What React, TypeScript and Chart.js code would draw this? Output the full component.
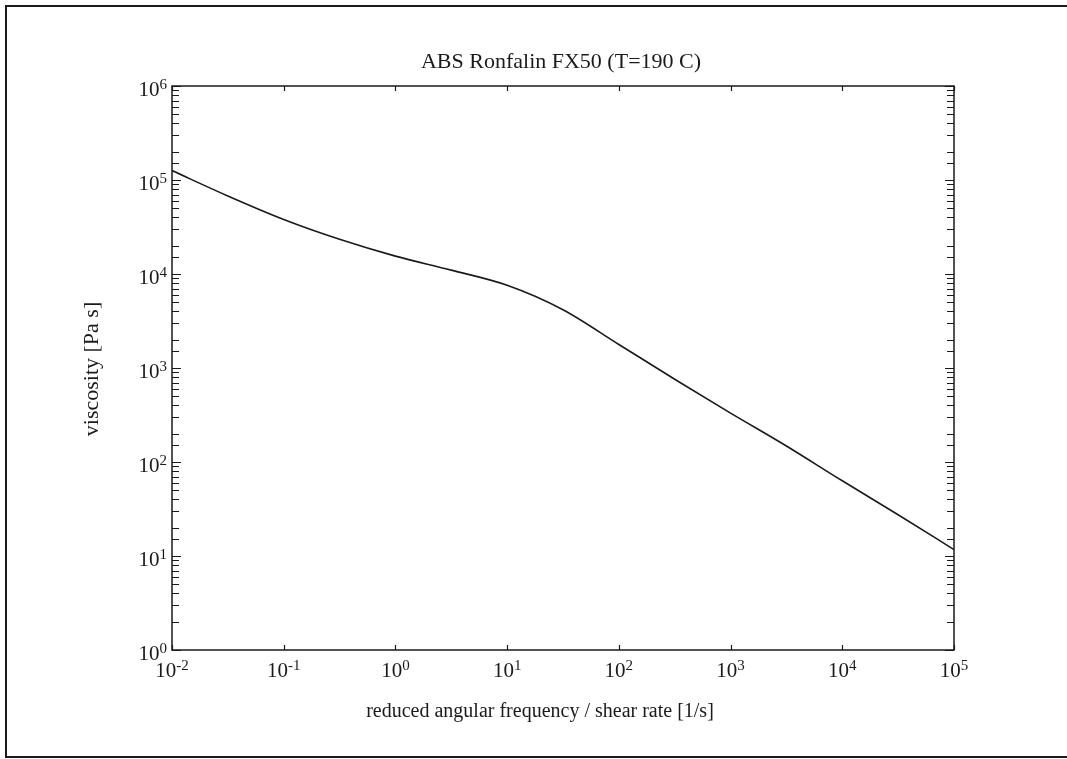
import React, { useEffect, useRef } from "react";
import { Chart, registerables } from "chart.js";

Chart.register(...registerables);

// reduced angular frequency / shear rate [1/s]
const shearRate = [0.01, 0.0316, 0.1, 0.316, 1, 3.16, 10, 31.6, 100, 316, 1000, 3160, 10000, 31600, 100000];
// viscosity [Pa s]
const viscosity = [125900, 67600, 38000, 23400, 15500, 11000, 7590, 4170, 1780, 759, 331, 148, 63.1, 27.5, 11.7];

const xTickExponents = [-2, -1, 0, 1, 2, 3, 4, 5];
const yTickExponents = [0, 1, 2, 3, 4, 5, 6];

const titleText = "ABS Ronfalin FX50 (T=190 C)";
const xLabel = "reduced angular frequency / shear rate [1/s]";
const yLabel = "viscosity [Pa s]";

const FONT = '"Liberation Serif", "Times New Roman", serif';
const INK = "#1a1a1a";

function drawPow(ctx: CanvasRenderingContext2D, exp: number, x: number, baseline: number, align: "left" | "right" | "center") {
  const baseFont = `21px ${FONT}`;
  const supFont = `15px ${FONT}`;
  ctx.font = baseFont;
  const wb = ctx.measureText("10").width;
  ctx.font = supFont;
  const es = String(exp);
  const we = ctx.measureText(es).width;
  const w = wb + we;
  let sx = x;
  if (align === "right") sx = x - w;
  else if (align === "center") sx = x - w / 2;
  ctx.textAlign = "left";
  ctx.textBaseline = "alphabetic";
  ctx.font = baseFont;
  ctx.fillText("10", sx, baseline);
  ctx.font = supFont;
  ctx.fillText(es, sx + wb, baseline - 7);
}

const customPlugin = {
  id: "customDraw",
  beforeDraw(chart: any) {
    const { ctx, width, height } = chart;
    ctx.save();
    ctx.fillStyle = "#ffffff";
    ctx.fillRect(0, 0, width, height);
    ctx.restore();
  },
  afterDraw(chart: any) {
    const { ctx, chartArea } = chart;
    const { left, right, top, bottom } = chartArea;
    const xs = chart.scales.x;
    const ys = chart.scales.y;
    ctx.save();
    ctx.strokeStyle = INK;
    ctx.fillStyle = INK;

    // plot box
    ctx.lineWidth = 1.5;
    ctx.strokeRect(left, top, right - left, bottom - top);

    // y ticks (major + minor), inward on both sides
    ctx.lineWidth = 1.2;
    ctx.beginPath();
    ys.ticks.forEach((t: any) => {
      const v = t.value;
      if (v < ys.min || v > ys.max) return;
      const py = Math.round(ys.getPixelForValue(v)) + 0.5;
      const lg = Math.log10(v);
      const major = Math.abs(lg - Math.round(lg)) < 1e-6;
      const len = major ? 9 : 7;
      ctx.moveTo(left, py);
      ctx.lineTo(left + len, py);
      ctx.moveTo(right, py);
      ctx.lineTo(right - len, py);
    });
    ctx.stroke();

    // x ticks (decades only)
    ctx.beginPath();
    xTickExponents.forEach((e) => {
      const px = Math.round(xs.getPixelForValue(Math.pow(10, e))) + 0.5;
      ctx.moveTo(px, bottom);
      ctx.lineTo(px, bottom - 5);
      ctx.moveTo(px, top);
      ctx.lineTo(px, top + 5);
    });
    ctx.stroke();

    // tick labels
    yTickExponents.forEach((e) => {
      const py = ys.getPixelForValue(Math.pow(10, e));
      drawPow(ctx, e, left - 5, py + 10, "right");
    });
    xTickExponents.forEach((e) => {
      const px = xs.getPixelForValue(Math.pow(10, e));
      drawPow(ctx, e, px, bottom + 27, "center");
    });

    // title & axis labels
    ctx.textAlign = "center";
    ctx.textBaseline = "middle";
    ctx.font = `22px ${FONT}`;
    ctx.fillText(titleText, 561, 62);
    ctx.font = `20px ${FONT}`;
    ctx.fillText(xLabel, 540, 712);
    ctx.save();
    ctx.font = `22px ${FONT}`;
    ctx.translate(92, 369);
    ctx.rotate(-Math.PI / 2);
    ctx.fillText(yLabel, 0, 0);
    ctx.restore();

    // outer frame
    ctx.lineWidth = 2;
    ctx.strokeRect(6, 6, 1080, 751);
    ctx.restore();
  },
};

export default function App() {
  const ref = useRef<HTMLCanvasElement | null>(null);
  useEffect(() => {
    document.body.style.margin = "0";
    const canvas = ref.current;
    if (!canvas) return;
    const chart = new Chart(canvas, {
      type: "line",
      data: {
        datasets: [
          {
            data: shearRate.map((x, i) => ({ x, y: viscosity[i] })),
            borderColor: INK,
            borderWidth: 1.6,
            pointRadius: 0,
            cubicInterpolationMode: "monotone",
            fill: false,
          },
        ],
      },
      options: {
        animation: false,
        responsive: false,
        maintainAspectRatio: false,
        layout: { padding: { left: 172, right: 113, top: 86, bottom: 109 } },
        plugins: { legend: { display: false }, title: { display: false }, tooltip: { enabled: false } },
        scales: {
          x: {
            type: "logarithmic",
            min: 0.01,
            max: 100000,
            grid: { display: false, drawTicks: false },
            border: { display: false },
            ticks: { display: false },
            afterFit: (s: any) => { s.height = 0; },
          },
          y: {
            type: "logarithmic",
            min: 1,
            max: 1000000,
            grid: { display: false, drawTicks: false },
            border: { display: false },
            ticks: { display: false },
            afterFit: (s: any) => { s.width = 0; },
          },
        },
      },
      plugins: [customPlugin],
    });
    return () => chart.destroy();
  }, []);
  return (
    <div style={{ position: "fixed", left: 0, top: 0, width: 1067, height: 759 }}>
      <canvas ref={ref} width={1067} height={759} style={{ display: "block", width: 1067, height: 759 }} />
    </div>
  );
}
